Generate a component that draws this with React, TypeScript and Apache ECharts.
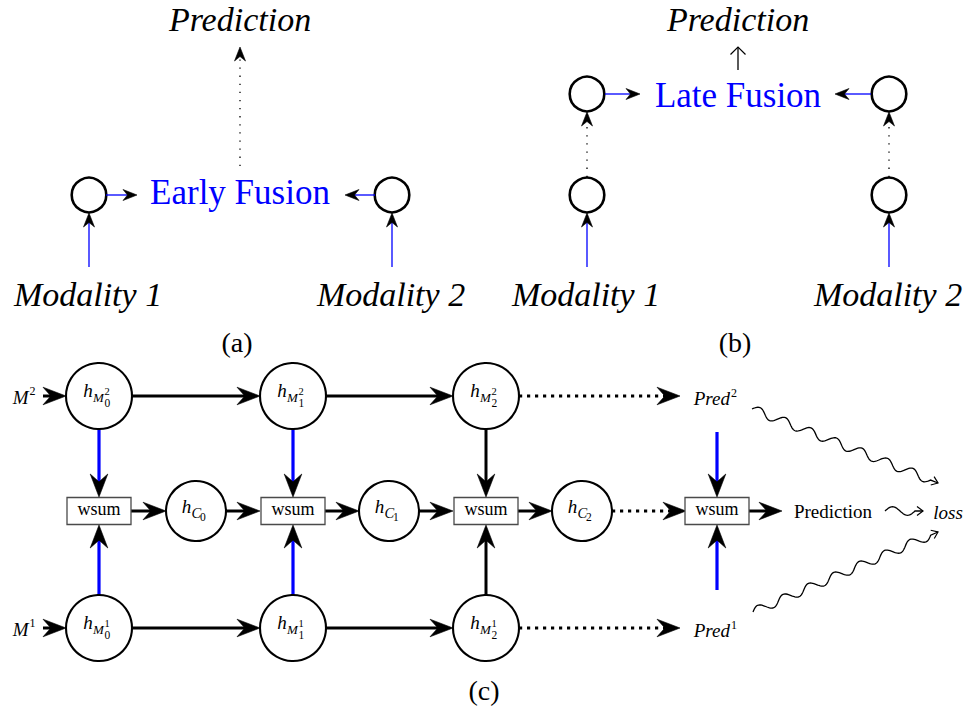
import React, { useEffect, useRef } from "react";
import * as echarts from "echarts";

// ---------- DATA (diagram layout in data units; axes map 0..967 x 0..709) ----------
// Panels (a) and (b)
const smallCircles = [[89, 195], [392, 195], [587, 195], [889, 195], [587, 94], [889, 94]];
const headlineTexts = ["Prediction", "Prediction"];
const headlinePos = [[240, 19], [738, 19]];
const fusionTexts = ["Early Fusion", "Late Fusion"];
const fusionPos = [[240, 192], [738, 95]];
const modalityTexts = ["Modality 1", "Modality 2", "Modality 1", "Modality 2"];
const modalityPos = [[88, 294], [391, 294], [586, 294], [888, 294]];
const captionTexts = ["(a)", "(b)", "(c)"];
const captionPos = [[237, 342], [735, 342], [484, 690]];
const thinBlueArrows = [
  [89, 267, 89, 213], [392, 267, 392, 213], [106, 195, 137, 195], [375, 195, 345, 195],
  [587, 267, 587, 213], [889, 267, 889, 213], [605, 94, 640, 94], [871, 94, 835, 94],
];
const thinDottedArrows = [[240, 166, 240, 47], [587, 177, 587, 112], [889, 177, 889, 112]];
const thinOpenArrows = [[738, 70, 738, 47]];

// Panel (c)
const hModNodes = [
  [99, 396, 2, 0], [293, 396, 2, 1], [486, 396, 2, 2],
  [99, 628, 1, 0], [293, 628, 1, 1], [486, 628, 1, 2],
];
const hCNodes = [[196, 511, 0], [389, 511, 1], [582, 511, 2]];
const wsumBoxes = [[99, 511], [293, 511], [486, 511], [717, 511]];
const wsumText = "wsum";
const blackArrows = [
  [43, 396, 66, 396], [43, 628, 66, 628],
  [132, 396, 260, 396], [326, 396, 453, 396],
  [132, 628, 260, 628], [326, 628, 453, 628],
  [131, 511, 166, 511], [226, 511, 260, 511], [325, 511, 359, 511],
  [419, 511, 453, 511], [518, 511, 552, 511],
  [486, 429, 486, 497], [486, 595, 486, 525],
  [749, 511, 782, 511],
];
const blueArrows = [
  [99, 429, 99, 497], [99, 595, 99, 525],
  [293, 429, 293, 497], [293, 595, 293, 525],
  [717, 432, 717, 497], [717, 590, 717, 525],
];
const dottedArrows = [[519, 396, 680, 396], [519, 628, 680, 628], [612, 511, 686, 511]];
const snakes = [[752, 409, 938, 483], [753, 612, 938, 532], [885, 511, 923, 511]];
const inputLabels = ["M", "M"];
const inputSups = ["2", "1"];
const inputPos = [[28.5, 397], [28.5, 629]];
const predLabels = ["Pred", "Pred"];
const predSups = ["2", "1"];
const predPos = [[730, 398], [730, 630]];
const finalTexts = ["Prediction"];
const finalPos = [[833, 511]];
const lossTexts = ["loss"];
const lossPos = [[948, 512]];

// ---------- STYLE ----------
const SERIF = "Liberation Serif";
const BLUE = "#0000ff";
const BLACK = "#000000";

type Pt = [number, number];
type Head = { len: number; half: number; notch: number; open?: boolean };
type F = { size: number; italic?: boolean };

const SMALL_HEAD: Head = { len: 14, half: 5.5, notch: 0.68 };
const BIG_HEAD: Head = { len: 23, half: 8.8, notch: 0.66 };
const OPEN_HEAD: Head = { len: 7.5, half: 7.5, notch: 1, open: true };

function textEl(x: number, y: number, text: string, f: F, fill: string, align = "center") {
  return {
    type: "text",
    x,
    y,
    style: {
      text,
      fontFamily: SERIF,
      fontSize: f.size,
      fontStyle: f.italic ? "italic" : "normal",
      fontWeight: "normal",
      fill,
      textAlign: align,
      textVerticalAlign: "middle",
      align,
      verticalAlign: "middle",
    },
  };
}

function arrowGroup(a: Pt, b: Pt, stroke: string, lineWidth: number, dash: number[] | null, head: Head) {
  const dx = b[0] - a[0];
  const dy = b[1] - a[1];
  const L = Math.hypot(dx, dy) || 1;
  const ux = dx / L, uy = dy / L, nx = -uy, ny = ux;
  const bx = b[0] - ux * head.len, by = b[1] - uy * head.len;
  const children: any[] = [];
  if (head.open) {
    children.push({ type: "line", shape: { x1: a[0], y1: a[1], x2: b[0], y2: b[1] }, style: { stroke, lineWidth } });
    children.push({
      type: "polyline",
      shape: { points: [[bx + nx * head.half, by + ny * head.half], b, [bx - nx * head.half, by - ny * head.half]] },
      style: { stroke: BLACK, lineWidth: 1.2, fill: null },
    });
  } else {
    const ex = b[0] - ux * head.len * 0.55, ey = b[1] - uy * head.len * 0.55;
    const lineStyle: any = { stroke, lineWidth, lineCap: "butt" };
    if (dash) lineStyle.lineDash = dash;
    children.push({ type: "line", shape: { x1: a[0], y1: a[1], x2: ex, y2: ey }, style: lineStyle });
    const px = b[0] - ux * head.len * head.notch, py = b[1] - uy * head.len * head.notch;
    children.push({
      type: "polygon",
      shape: { points: [b, [bx + nx * head.half, by + ny * head.half], [px, py], [bx - nx * head.half, by - ny * head.half]] },
      style: { fill: BLACK, stroke: BLACK, lineWidth: 0.6 },
    });
  }
  return { type: "group", children };
}

function edgeSeries(name: string, data: number[][], stroke: string, lineWidth: number, dash: number[] | null, head: Head) {
  return {
    type: "custom",
    name,
    coordinateSystem: "cartesian2d",
    silent: true,
    data,
    renderItem: (_p: any, api: any) => {
      const a = api.coord([api.value(0), api.value(1)]) as Pt;
      const b = api.coord([api.value(2), api.value(3)]) as Pt;
      return arrowGroup(a, b, stroke, lineWidth, dash, head);
    },
  };
}

function textSeries(name: string, data: number[][], texts: string[], f: F, fill: string) {
  return {
    type: "custom",
    name,
    coordinateSystem: "cartesian2d",
    silent: true,
    data,
    renderItem: (p: any, api: any) => {
      const c = api.coord([api.value(0), api.value(1)]);
      return textEl(c[0], c[1], texts[p.dataIndex], f, fill);
    },
  };
}

function supSeries(name: string, data: number[][], bases: string[], sups: string[], baseF: F, supF: F, supDy: number) {
  return {
    type: "custom",
    name,
    coordinateSystem: "cartesian2d",
    silent: true,
    data,
    renderItem: (p: any, api: any) => {
      const c = api.coord([api.value(0), api.value(1)]);
      return {
        type: "group",
        children: [
          textEl(c[0], c[1], bases[p.dataIndex], baseF, BLACK, "right"),
          textEl(c[0] + 1, c[1] + supDy, sups[p.dataIndex], supF, BLACK, "left"),
        ],
      };
    },
  };
}

function snakeGroup(a: Pt, b: Pt) {
  const dx = b[0] - a[0];
  const dy = b[1] - a[1];
  const L = Math.hypot(dx, dy) || 1;
  const ux = dx / L, uy = dy / L;
  const nx = uy, ny = -ux; // left-hand normal on screen
  const post = 8;
  const amp = 4.3;
  const waveLen = L - post;
  const periods = Math.max(1, Math.round(waveLen / 27));
  const lam = waveLen / periods;
  const steps = periods * 28;
  const pts: number[][] = [];
  for (let i = 0; i <= steps; i++) {
    const s = (waveLen * i) / steps;
    const off = amp * Math.sin((2 * Math.PI * s) / lam);
    pts.push([a[0] + ux * s + nx * off, a[1] + uy * s + ny * off]);
  }
  pts.push([b[0], b[1]]);
  const hl = 6, hh = 4.5;
  const bx = b[0] - ux * hl, by = b[1] - uy * hl;
  return {
    type: "group",
    children: [
      { type: "polyline", shape: { points: pts }, style: { stroke: BLACK, lineWidth: 1.3, fill: null } },
      {
        type: "polyline",
        shape: { points: [[bx + nx * hh, by + ny * hh], [b[0], b[1]], [bx - nx * hh, by - ny * hh]] },
        style: { stroke: BLACK, lineWidth: 1.2, fill: null },
      },
    ],
  };
}

function buildOption(): any {
  const series: any[] = [];

  // panels (a), (b)
  series.push({
    type: "custom",
    name: "states",
    coordinateSystem: "cartesian2d",
    silent: true,
    data: smallCircles,
    renderItem: (_p: any, api: any) => {
      const c = api.coord([api.value(0), api.value(1)]);
      return { type: "circle", shape: { cx: c[0], cy: c[1], r: 17.3 }, style: { fill: "#fff", stroke: BLACK, lineWidth: 2.6 } };
    },
  });
  series.push(edgeSeries("thinBlue", thinBlueArrows, BLUE, 1.3, null, SMALL_HEAD));
  series.push(edgeSeries("thinDotted", thinDottedArrows, BLACK, 1.3, [1.3, 6.8], SMALL_HEAD));
  series.push(edgeSeries("thinOpen", thinOpenArrows, BLACK, 1.3, null, OPEN_HEAD));
  series.push(textSeries("headline", headlinePos, headlineTexts, { size: 34, italic: true }, BLACK));
  series.push(textSeries("fusion", fusionPos, fusionTexts, { size: 35 }, BLUE));
  series.push(textSeries("modality", modalityPos, modalityTexts, { size: 34, italic: true }, BLACK));
  series.push(textSeries("caption", captionPos, captionTexts, { size: 28 }, BLACK));

  // panel (c) edges
  series.push(edgeSeries("black", blackArrows, BLACK, 3, null, BIG_HEAD));
  series.push(edgeSeries("blue", blueArrows, BLUE, 3.2, null, BIG_HEAD));
  series.push(edgeSeries("dotted", dottedArrows, BLACK, 3.2, [3.2, 4.8], BIG_HEAD));

  // snakes
  series.push({
    type: "custom",
    name: "snakes",
    coordinateSystem: "cartesian2d",
    silent: true,
    data: snakes,
    renderItem: (_p: any, api: any) => {
      const a = api.coord([api.value(0), api.value(1)]) as Pt;
      const b = api.coord([api.value(2), api.value(3)]) as Pt;
      return snakeGroup(a, b);
    },
  });

  // modality hidden-state nodes
  series.push({
    type: "custom",
    name: "hMod",
    coordinateSystem: "cartesian2d",
    silent: true,
    data: hModNodes,
    renderItem: (_p: any, api: any) => {
      const c = api.coord([api.value(0), api.value(1)]);
      const m = String(api.value(2));
      const l = String(api.value(3));
      return {
        type: "group",
        children: [
          { type: "circle", shape: { cx: c[0], cy: c[1], r: 33 }, style: { fill: "#fff", stroke: BLACK, lineWidth: 2.1 } },
          textEl(c[0] - 11, c[1] - 6, "h", { size: 19, italic: true }, BLACK),
          textEl(c[0] - 6, c[1] + 1.5, "M", { size: 13, italic: true }, BLACK, "left"),
          textEl(c[0] + 5.5, c[1] - 4.8, m, { size: 10.5 }, BLACK, "left"),
          textEl(c[0] + 5.5, c[1] + 7, l, { size: 11.5 }, BLACK, "left"),
        ],
      };
    },
  });

  // common hidden-state nodes
  series.push({
    type: "custom",
    name: "hC",
    coordinateSystem: "cartesian2d",
    silent: true,
    data: hCNodes,
    renderItem: (_p: any, api: any) => {
      const c = api.coord([api.value(0), api.value(1)]);
      const l = String(api.value(2));
      return {
        type: "group",
        children: [
          { type: "circle", shape: { cx: c[0], cy: c[1], r: 30 }, style: { fill: "#fff", stroke: BLACK, lineWidth: 2.1 } },
          textEl(c[0] - 9.5, c[1] - 4.4, "h", { size: 19, italic: true }, BLACK),
          textEl(c[0] - 4.5, c[1] + 2, "C", { size: 14.5, italic: true }, BLACK, "left"),
          textEl(c[0] + 4, c[1] + 6, l, { size: 11.5 }, BLACK, "left"),
        ],
      };
    },
  });

  // wsum boxes
  series.push({
    type: "custom",
    name: "wsum",
    coordinateSystem: "cartesian2d",
    silent: true,
    data: wsumBoxes,
    renderItem: (_p: any, api: any) => {
      const c = api.coord([api.value(0), api.value(1)]);
      return {
        type: "group",
        children: [
          { type: "rect", shape: { x: c[0] - 32, y: c[1] - 13.5, width: 64, height: 27 }, style: { fill: "#fff", stroke: "#4a4a4a", lineWidth: 1.3 } },
          textEl(c[0], c[1] - 2, wsumText, { size: 18 }, BLACK),
        ],
      };
    },
  });

  series.push(supSeries("inputs", inputPos, inputLabels, inputSups, { size: 19, italic: true }, { size: 12 }, -6));
  series.push(supSeries("preds", predPos, predLabels, predSups, { size: 19, italic: true }, { size: 12 }, -5));
  series.push(textSeries("final", finalPos, finalTexts, { size: 19 }, BLACK));
  series.push(textSeries("loss", lossPos, lossTexts, { size: 19, italic: true }, BLACK));

  return {
    animation: false,
    backgroundColor: "#ffffff",
    grid: { left: 0, right: 0, top: 0, bottom: 0 },
    xAxis: { type: "value", min: 0, max: 967, show: false },
    yAxis: { type: "value", min: 0, max: 709, inverse: true, show: false },
    series,
  };
}

export default function App() {
  const ref = useRef<HTMLDivElement>(null);
  useEffect(() => {
    if (!ref.current) return;
    const chart = echarts.init(ref.current, null, { renderer: "svg" });
    chart.setOption(buildOption());
    return () => chart.dispose();
  }, []);
  return (
    <div
      ref={ref}
      style={{ position: "absolute", left: 0, top: 0, width: 967, height: 709, background: "#fff" }}
    />
  );
}
